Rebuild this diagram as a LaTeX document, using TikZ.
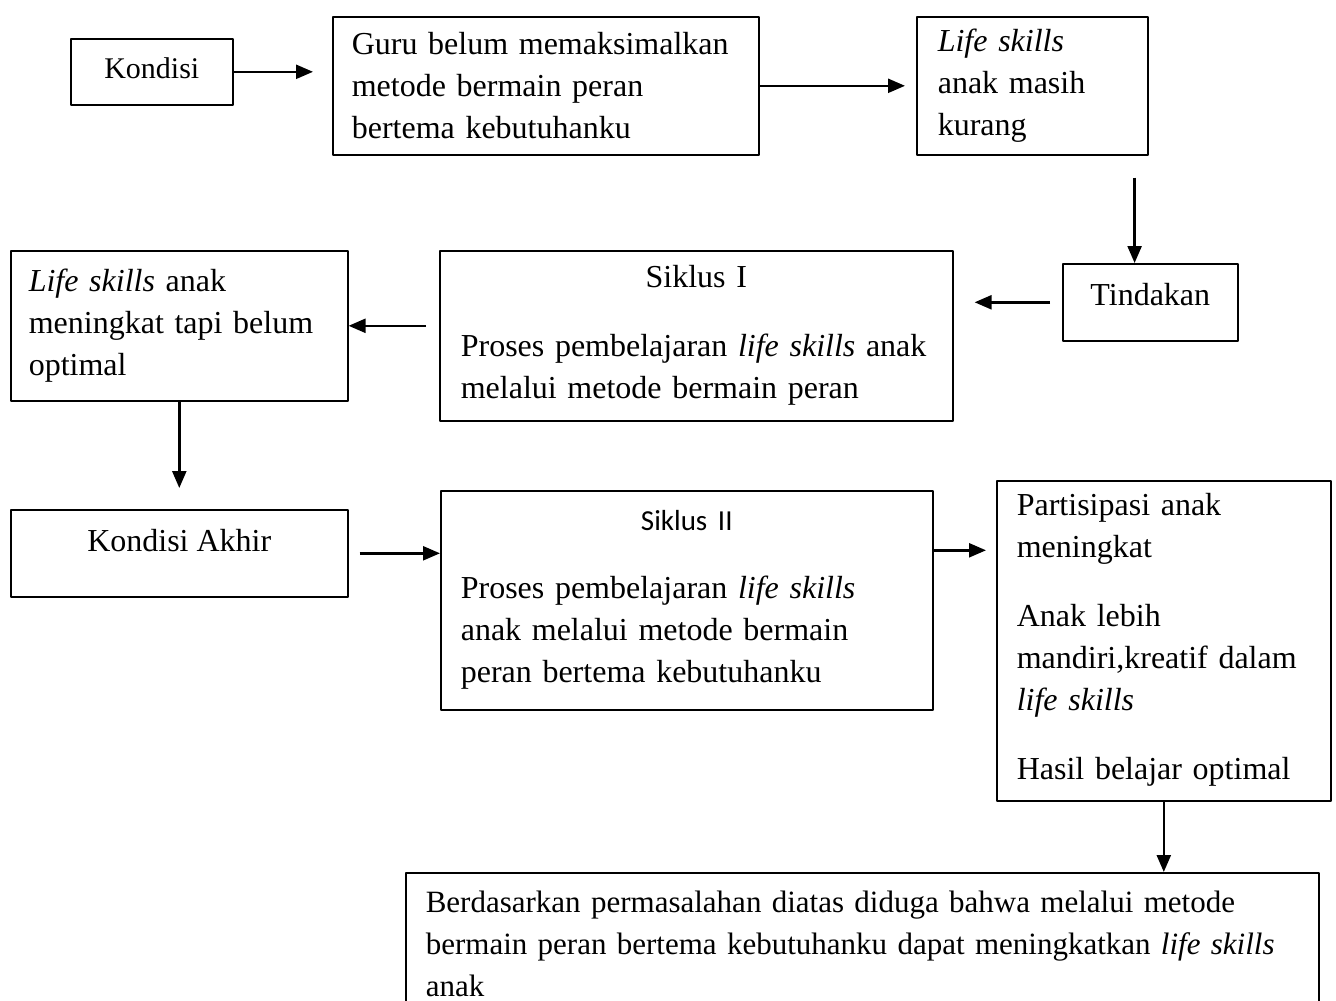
\documentclass[tikz,border=0pt]{standalone}
\usepackage{fontspec}
\setmainfont{Liberation Serif}
\newfontfamily\calibri{Carlito}
\usetikzlibrary{arrows.meta}
\newcommand{\judul}[1]{\makebox[\hsize]{#1}}
\begin{document}
\begin{tikzpicture}[x=1pt,y=-1pt, font=\fontsize{32}{42}\selectfont, line join=round,
	kotak/.style={draw, line width=1.6pt, align=left, anchor=north west, inner ysep=4pt},
	pusat/.style={draw, line width=1.6pt, align=center, anchor=north west, inner sep=0pt, text height=22pt},
	panah/.style={line width=2.4pt, -{Triangle[length=17pt,width=14pt]}}]
	\useasboundingbox (0,0) rectangle (1336,1001);
	% baris atas
	\node[pusat, minimum width=162pt, minimum height=66pt, text depth=8pt, font=\fontsize{30}{42}\selectfont] (kondisi) at (70,38) {Kondisi};
	\node[kotak, inner xsep=19pt, text width=388pt, minimum height=138pt] (guru) at (332,16) {Guru belum memaksimalkan\\metode bermain peran\\bertema kebutuhanku};
	\node[kotak, inner xsep=21pt, text width=189pt, minimum height=138pt] (kurang) at (916,16) {\textit{Life skills}\\anak masih\\kurang};
	% baris tengah
	\node[pusat, minimum width=175pt, minimum height=77pt, text depth=15pt] (tindakan) at (1062,263) {Tindakan};
	\node[kotak, inner xsep=21pt, text width=471pt, minimum height=170pt] (siklus1) at (439,250) {\judul{Siklus I}\\[27pt]Proses pembelajaran \textit{life skills} anak\\melalui metode bermain peran};
	\node[kotak, inner xsep=18pt, text width=301pt, minimum height=150pt] (belum) at (10,250) {\textit{Life skills} anak\\meningkat tapi belum\\optimal};
	% baris bawah
	\node[pusat, minimum width=337pt, minimum height=87pt, text depth=25pt] (akhir) at (10,509) {Kondisi Akhir};
	\node[kotak, inner xsep=20pt, text width=452pt, minimum height=219pt] (siklus2) at (440,490) {\judul{\calibri\fontsize{29}{42}\selectfont Siklus II}\\[26pt]Proses pembelajaran \textit{life skills}\\anak melalui metode bermain\\peran bertema kebutuhanku};
	\node[kotak, inner xsep=20pt, text width=294pt, minimum height=320pt, inner ysep=0pt] (hasil) at (996,480) {Partisipasi anak\\meningkat\\[27pt]Anak lebih\\mandiri,kreatif dalam\\\textit{life skills}\\[27pt]Hasil belajar optimal\\[-33pt]\mbox{}};
	\node[kotak, inner xsep=20pt, inner ysep=18pt, text width=873pt, font=\fontsize{31}{42}\selectfont] (simpulan) at (405,872) {Berdasarkan permasalahan diatas diduga bahwa melalui metode\\bermain peran bertema kebutuhanku dapat meningkatkan \textit{life skills}\\anak};
	% panah
	\draw[panah, shorten >=19pt] (kondisi.east) -- (kondisi.east -| guru.west);
	\draw[panah, shorten >=11pt] (guru.east) -- (kurang.west);
	\draw[panah, shorten <=22pt] ([xshift=-14pt]kurang.south east) -- ([xshift=-14pt]kurang.south east |- tindakan.north);
	\draw[panah, shorten <=12pt, shorten >=21pt] (tindakan.west) -- (tindakan.west -| siklus1.east);
	\draw[panah, shorten <=13pt] (siklus1.west |- belum.east) -- (belum.east);
	\draw[panah, shorten >=21pt] (belum.south) -- (belum.south |- akhir.north);
	\draw[panah, shorten <=11pt] (akhir.east) -- (akhir.east -| siklus2.west);
	\draw[panah, shorten >=10pt] ([yshift=50pt]siklus2.east) -- ([yshift=50pt]siklus2.east -| hasil.west);
	\draw[panah] (hasil.south) -- (hasil.south |- simpulan.north);
\end{tikzpicture}
\end{document}
